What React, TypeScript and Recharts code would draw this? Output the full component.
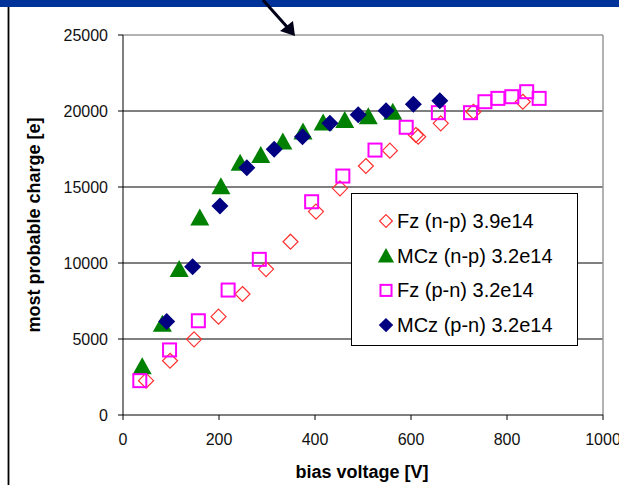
import React from 'react';
import {
  ScatterChart,
  Scatter,
  XAxis,
  YAxis,
  CartesianGrid,
  ReferenceLine,
  Legend,
  Label,
} from 'recharts';

// ---- axis ticks ----
const xTicks = [0, 200, 400, 600, 800, 1000];
const yTicks = [0, 5000, 10000, 15000, 20000, 25000];
const gridValues = [5000, 10000, 15000, 20000];

// ---- series names ----
const seriesNames = [
  'Fz (n-p) 3.9e14',
  'MCz (n-p) 3.2e14',
  'Fz (p-n) 3.2e14',
  'MCz (p-n) 3.2e14',
];

// ---- Fz (n-p) 3.9e14 ----
const fzNpVoltage = [48, 98, 148, 199, 249, 298, 349, 402, 452, 506, 556, 610, 615, 662, 730, 833];
const fzNpCharge = [2260, 3570, 4980, 6470, 7960, 9600, 11400, 13380, 14910, 16380, 17390, 18420, 18310, 19190, 19950, 20610];

// ---- MCz (n-p) 3.2e14 ----
const mczNpVoltage = [40, 82, 117, 160, 204, 244, 287, 333, 375, 417, 462, 511, 562];
const mczNpCharge = [3200, 6000, 9600, 13000, 15050, 16600, 17100, 18000, 18650, 19250, 19400, 19650, 19950];

// ---- Fz (p-n) 3.2e14 ----
const fzPnVoltage = [35, 97, 157, 219, 284, 393, 458, 525, 590, 657, 724, 754, 781, 810, 841, 867];
const fzPnCharge = [2260, 4280, 6200, 8220, 10240, 14030, 15720, 17430, 18930, 19890, 19890, 20610, 20830, 20940, 21270, 20830];

// ---- MCz (p-n) 3.2e14 ----
const mczPnVoltage = [91, 145, 202, 258, 315, 374, 431, 490, 548, 605, 660];
const mczPnCharge = [6150, 9750, 13750, 16270, 17480, 18300, 19200, 19750, 20020, 20450, 20680];

const toPoints = (xs: number[], ys: number[]) =>
  xs.map((v, i) => ({ voltage: v, charge: ys[i] }));

const FONT = "'Liberation Sans', Arial, sans-serif";

// ---- marker drawing (positions come from the library: cx, cy) ----
const RED = '#FF3030';
const GREEN = '#008000';
const MAGENTA = '#FF00FF';
const NAVY = '#000080';

function drawMarker(kind: number, cx: number, cy: number, scale = 1) {
  if (kind === 0) {
    const r = 7.5 * scale;
    return (
      <path
        d={`M${cx},${cy - r}L${cx + r},${cy}L${cx},${cy + r}L${cx - r},${cy}Z`}
        fill="none"
        stroke={RED}
        strokeWidth={1.2}
      />
    );
  }
  if (kind === 1) {
    const w = 9.5 * scale;
    return (
      <path
        d={`M${cx},${cy - 9 * scale}L${cx + w},${cy + 8 * scale}L${cx - w},${cy + 8 * scale}Z`}
        fill={GREEN}
      />
    );
  }
  if (kind === 2) {
    const h = 6.5 * scale;
    return (
      <rect
        x={cx - h}
        y={cy - h}
        width={2 * h}
        height={2 * h}
        fill="none"
        stroke={MAGENTA}
        strokeWidth={2}
      />
    );
  }
  const r = 8.5 * scale;
  return (
    <path
      d={`M${cx},${cy - r}L${cx + r},${cy}L${cx},${cy + r}L${cx - r},${cy}Z`}
      fill={NAVY}
    />
  );
}

const makeShape = (kind: number) => (props: any) => {
  const { cx, cy } = props;
  if (cx == null || cy == null) return <g />;
  return <g>{drawMarker(kind, cx, cy)}</g>;
};

const renderLegend = (props: any) => {
  const payload = ((props && props.payload) || []).slice();
  payload.sort(
    (a: any, b: any) => seriesNames.indexOf(a.value) - seriesNames.indexOf(b.value)
  );
  return (
    <svg width={225} height={151} style={{ display: 'block' }}>
      {payload.map((entry: any, i: number) => {
        const idx = seriesNames.indexOf(entry.value);
        const rowY = 27 + i * 34.7;
        return (
          <g key={String(entry.value)}>
            {drawMarker(idx, 34, rowY, 0.85)}
            <text
              x={45}
              y={rowY + 7}
              fontSize={20}
              fontFamily={FONT}
              fill="#000"
            >
              {entry.value}
            </text>
          </g>
        );
      })}
    </svg>
  );
};

const XTitle = (props: any) => {
  const vb = props.viewBox || { x: 123, y: 415, width: 480, height: 30 };
  return (
    <text
      x={vb.x + vb.width / 2 - 1}
      y={478}
      textAnchor="middle"
      fontSize={18}
      fontWeight="bold"
      fontFamily={FONT}
      fill="#000"
    >
      bias voltage [V]
    </text>
  );
};

const YTitle = (props: any) => {
  const vb = props.viewBox || { x: 0, y: 35, width: 123, height: 380 };
  const cy = vb.y + vb.height / 2;
  const bx = 40;
  return (
    <text
      x={bx}
      y={cy}
      transform={`rotate(-90 ${bx} ${cy})`}
      textAnchor="middle"
      fontSize={18}
      fontWeight="bold"
      fontFamily={FONT}
      fill="#000"
    >
      most probable charge [e]
    </text>
  );
};

export default function App() {
  const tickStyle = { fill: '#111', fontSize: 16, fontFamily: FONT };
  return (
    <div
      style={{
        position: 'absolute',
        left: 0,
        top: 0,
        width: 619,
        height: 485,
        background: '#fff',
        overflow: 'hidden',
      }}
    >
      <ScatterChart
        width={619}
        height={485}
        margin={{ top: 35, right: 16, bottom: 40, left: 0 }}
      >
        <CartesianGrid
          vertical={false}
          stroke="#000"
          strokeWidth={1}
          horizontalValues={gridValues}
        />
        <XAxis
          type="number"
          dataKey="voltage"
          domain={[0, 1000]}
          ticks={xTicks}
          interval={0}
          height={30}
          tickSize={5}
          tickMargin={14}
          stroke="#000"
          tick={tickStyle}
          allowDataOverflow
        >
          <Label content={<XTitle />} />
        </XAxis>
        <YAxis
          type="number"
          dataKey="charge"
          domain={[0, 25000]}
          ticks={yTicks}
          interval={0}
          width={123}
          tickSize={5}
          tickMargin={10}
          stroke="#000"
          tick={tickStyle}
          allowDataOverflow
        >
          <Label content={<YTitle />} />
        </YAxis>
        <ReferenceLine y={25000} stroke="#999" strokeWidth={1.5} />
        <ReferenceLine x={1000} stroke="#999" strokeWidth={1.5} />
        <Legend
          layout="vertical"
          align="center"
          verticalAlign="middle"
          width={227}
          height={153}
          content={renderLegend}
          wrapperStyle={{
            left: 351,
            top: 193,
            width: 227,
            height: 153,
            border: '1px solid #000',
            background: '#fff',
            boxSizing: 'border-box',
          }}
        />
        <Scatter
          name={seriesNames[0]}
          data={toPoints(fzNpVoltage, fzNpCharge)}
          fill={RED}
          shape={makeShape(0)}
          isAnimationActive={false}
        />
        <Scatter
          name={seriesNames[1]}
          data={toPoints(mczNpVoltage, mczNpCharge)}
          fill={GREEN}
          shape={makeShape(1)}
          isAnimationActive={false}
        />
        <Scatter
          name={seriesNames[2]}
          data={toPoints(fzPnVoltage, fzPnCharge)}
          fill={MAGENTA}
          shape={makeShape(2)}
          isAnimationActive={false}
        />
        <Scatter
          name={seriesNames[3]}
          data={toPoints(mczPnVoltage, mczPnCharge)}
          fill={NAVY}
          shape={makeShape(3)}
          isAnimationActive={false}
        />
      </ScatterChart>
      <svg
        width={619}
        height={485}
        style={{ position: 'absolute', left: 0, top: 0, pointerEvents: 'none' }}
      >
        <rect x={0} y={0} width={619} height={7} fill="#003399" />
        <line x1={8.5} y1={7} x2={8.5} y2={485} stroke="#000" strokeWidth={1.8} />
        <line x1={263} y1={0} x2={288} y2={28} stroke="#000018" strokeWidth={3} />
        <polygon points="295,36 280,31 293,21" fill="#000018" />
      </svg>
    </div>
  );
}
